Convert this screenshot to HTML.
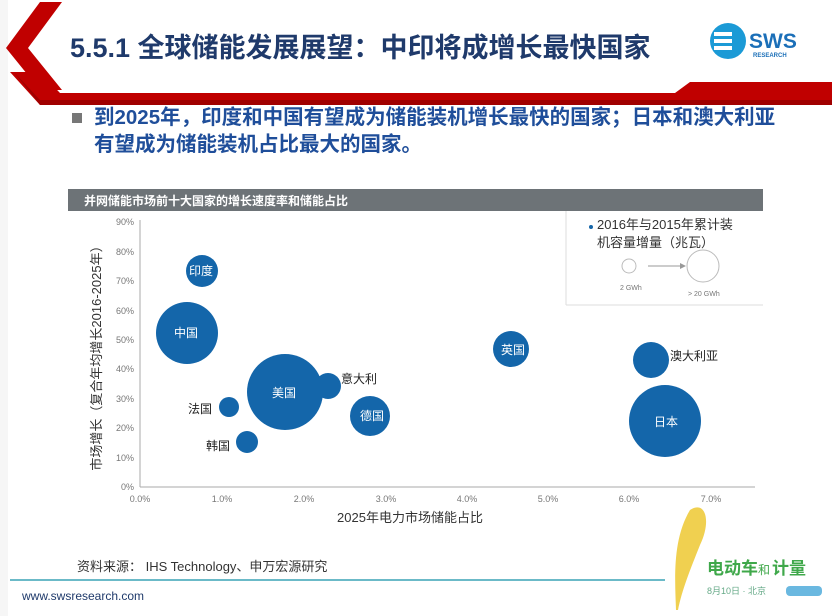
<!DOCTYPE html>
<html><head><meta charset="utf-8"><style>
body{margin:0;width:832px;height:616px;background:#f6f6f6;overflow:hidden;font-family:"Liberation Sans","Noto Sans CJK SC",sans-serif;position:relative}
.a{position:absolute;white-space:nowrap}
</style></head><body>
<div class="a" style="left:8px;top:0;width:824px;height:616px;background:#fff"></div>
<svg class="a" style="left:0;top:0" width="832" height="120">
<polygon points="40,2 62,2 28,48 62,90 40,90 6,48" fill="#c00000"/>
<polygon points="10,72 40,105 832,105 832,82 690,82 675,93 60,93 40,72" fill="#c00000"/>
<polygon points="14,72 40,100 832,100 832,105 40,105" fill="#a00000"/>
</svg>
<div class="a" style="left:70px;top:26px;font-size:27px;font-weight:bold;color:#1f3a6b;letter-spacing:0px">5.5.1 全球储能发展展望：中印将成增长最快国家</div>
<svg class="a" style="left:708px;top:20px" width="110" height="44">
<circle cx="20" cy="21" r="18" fill="#1b9ad6"/>
<rect x="6" y="12" width="18" height="4" fill="#fff"/><rect x="6" y="19" width="18" height="4" fill="#fff"/><rect x="6" y="26" width="18" height="4" fill="#fff"/>
<text x="41" y="28" font-family="Liberation Sans" font-weight="bold" font-size="21" fill="#1b6fb8">SWS</text>
<text x="45" y="37" font-family="Liberation Sans" font-weight="bold" font-size="6" fill="#1b6fb8">RESEARCH</text>
</svg>
<div class="a" style="left:72px;top:113px;width:10px;height:10px;background:#777"></div>
<div class="a" style="left:94px;top:104px;font-size:20.5px;font-weight:bold;color:#1f4e9a;line-height:27px">到2025年，印度和中国有望成为储能装机增长最快的国家；日本和澳大利亚<br>有望成为储能装机占比最大的国家。</div>
<div class="a" style="left:68px;top:189px;width:695px;height:22px;background:#6d7377"></div>
<div class="a" style="left:84px;top:192px;font-size:12px;font-weight:bold;color:#fff">并网储能市场前十大国家的增长速度率和储能占比</div>
<svg class="a" style="left:0;top:0" width="832" height="616" font-family="Liberation Sans,Noto Sans CJK SC,sans-serif">
<g stroke="#ddd" fill="none"><line x1="566" y1="211" x2="566" y2="305"/><line x1="566" y1="305" x2="763" y2="305"/></g>
<circle cx="591" cy="227" r="2" fill="#1565a8"/>
<text x="597" y="229" font-size="13" fill="#333">2016年与2015年累计装</text>
<text x="597" y="247" font-size="13" fill="#333">机容量增量（兆瓦）</text>
<circle cx="629" cy="266" r="7" fill="none" stroke="#bbb"/>
<line x1="648" y1="266" x2="680" y2="266" stroke="#999"/><polygon points="680,263 686,266 680,269" fill="#999"/>
<circle cx="703" cy="266" r="16" fill="none" stroke="#bbb"/>
<text x="620" y="290" font-size="7" fill="#777">2 GWh</text><text x="688" y="296" font-size="7" fill="#777">&gt; 20 GWh</text>
<line x1="140" y1="220" x2="140" y2="487" stroke="#aaa"/>
<line x1="140" y1="487" x2="755" y2="487" stroke="#aaa"/>
<g font-size="9" fill="#777" text-anchor="end">
<text x="134" y="490">0%</text><text x="134" y="461">10%</text><text x="134" y="431">20%</text><text x="134" y="402">30%</text><text x="134" y="372">40%</text><text x="134" y="343">50%</text><text x="134" y="314">60%</text><text x="134" y="284">70%</text><text x="134" y="255">80%</text><text x="134" y="225">90%</text>
</g>
<g font-size="9" fill="#777" text-anchor="middle">
<text x="140" y="502">0.0%</text><text x="222" y="502">1.0%</text><text x="304" y="502">2.0%</text><text x="386" y="502">3.0%</text><text x="467" y="502">4.0%</text><text x="548" y="502">5.0%</text><text x="629" y="502">6.0%</text><text x="711" y="502">7.0%</text>
</g>
<text x="410" y="522" font-size="13" fill="#333" text-anchor="middle">2025年电力市场储能占比</text>
<text transform="translate(101,355) rotate(-90)" font-size="13" fill="#333" text-anchor="middle">市场增长（复合年均增长2016-2025年）</text>
<g fill="#1466aa">
<circle cx="202" cy="271" r="16"/><circle cx="187" cy="333" r="31"/><circle cx="285" cy="392" r="38"/><circle cx="328" cy="386" r="13"/>
<circle cx="229" cy="407" r="10"/><circle cx="370" cy="416" r="20"/><circle cx="247" cy="442" r="11"/><circle cx="511" cy="349" r="18"/>
<circle cx="651" cy="360" r="18"/><circle cx="665" cy="421" r="36"/>
</g>
<g font-size="12" fill="#fff" text-anchor="middle">
<text x="201" y="275">印度</text><text x="186" y="337">中国</text><text x="284" y="397">美国</text><text x="372" y="420">德国</text><text x="513" y="354">英国</text><text x="666" y="426">日本</text>
</g>
<g font-size="12" fill="#222">
<text x="341" y="383">意大利</text><text x="188" y="413">法国</text><text x="206" y="450">韩国</text><text x="670" y="360">澳大利亚</text>
</g>
<line x1="10" y1="580" x2="665" y2="580" stroke="#3aa3b5" stroke-width="1.5"/>
<path d="M690 510 C 705 500 712 520 700 545 C 690 570 682 590 678 610 L676 610 C 675 580 672 540 690 510Z" fill="#f0d050"/>
<text x="707" y="574" font-size="17" font-weight="bold" fill="#3fa84a">电动车</text><text x="758" y="574" font-size="12" fill="#3fa84a">和</text><text x="772" y="574" font-size="17" font-weight="bold" fill="#3fa84a">计量</text>
<text x="707" y="594" font-size="9" fill="#6a8">8月10日 · 北京</text>
<rect x="786" y="586" width="36" height="10" rx="4" fill="#6ab8e0"/>
</svg>
<div class="a" style="left:77px;top:556px;font-size:13px;color:#333">资料来源： IHS Technology、申万宏源研究</div>
<div class="a" style="left:22px;top:589px;font-size:12px;color:#1f3a6b">www.swsresearch.com</div>
</body></html>
